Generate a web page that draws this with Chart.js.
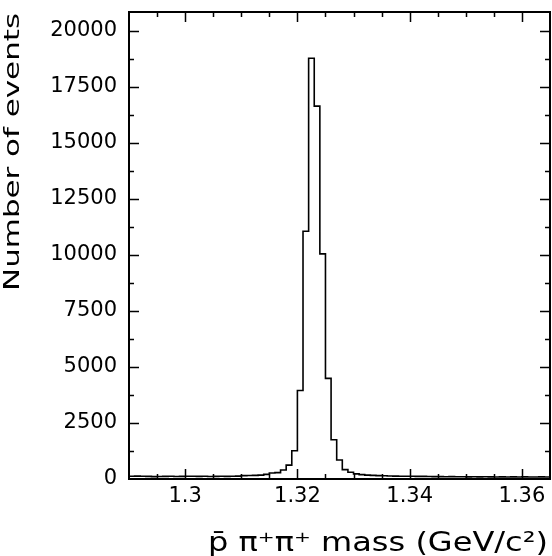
<!DOCTYPE html>
<html><head><meta charset="utf-8">
<script src="https://cdn.jsdelivr.net/npm/chart.js@4"></script>
<style>html,body{margin:0;padding:0;background:#fff;overflow:hidden}canvas{display:block}</style>
</head><body>
<canvas id="c" width="552" height="556"></canvas>
<script>
// ---- data ----
const xRange = [1.290, 1.365];
const binWidth = 0.001;
const binCounts = [
  120, 130, 125, 115, 105, 110, 115, 120, 110, 115,   // 1.290 - 1.299
  125, 120, 115, 120, 110, 115, 120, 115, 120, 130,   // 1.300 - 1.309
  150, 155, 160, 175, 205, 265, 285, 400, 620, 1260,  // 1.310 - 1.319
  3950, 11050, 18770, 16630, 10040, 4490, 1750, 850, 420, 300, // 1.320 - 1.329
  230, 195, 175, 160, 150, 145, 135, 130, 125, 120,   // 1.330 - 1.339
  120, 115, 115, 110, 105, 105, 100, 105, 100, 100,   // 1.340 - 1.349
  95, 100, 95, 100, 95, 90, 95, 90, 95, 90,           // 1.350 - 1.359
  95, 90, 90, 95, 90                                  // 1.360 - 1.364
];
const binLowEdges = binCounts.map((_, i) => +(xRange[0] + i * binWidth).toFixed(3));
const yRange = [0, 20830];
const xTickValues = [1.30, 1.32, 1.34, 1.36];
const xTickLabels = ['1.3', '1.32', '1.34', '1.36'];
const yTickValues = [0, 2500, 5000, 7500, 10000, 12500, 15000, 17500, 20000];
const yTickLabels = ['0', '2500', '5000', '7500', '10000', '12500', '15000', '17500', '20000'];
const xMinorStep = 0.005;
const yMinorStep = 1250;
const xTitle = 'p\u0304 \u03c0\u207a\u03c0\u207a mass (GeV/c\u00b2)';
const yTitle = 'Number of events';

// histogram as step line: each point at bin low edge, plus closing point at upper edge
const points = binLowEdges.map((x, i) => ({ x: x, y: binCounts[i] }));
points.push({ x: xRange[1], y: binCounts[binCounts.length - 1] });

const FONT = '"DejaVu Sans", "Liberation Sans", sans-serif';

const framePlugin = {
  id: 'frame',
  afterDraw(chart) {
    const ctx = chart.ctx;
    const a = chart.chartArea;
    const xs = chart.scales.x, ys = chart.scales.y;
    ctx.save();
    ctx.strokeStyle = '#000';
    ctx.lineWidth = 2;
    ctx.strokeRect(a.left, a.top, a.right - a.left, a.bottom - a.top);
    ctx.lineWidth = 1.5;
    ctx.beginPath();
    const nx = Math.round((xRange[1] - xRange[0]) / xMinorStep);
    for (let i = 0; i <= nx; i++) {
      const v = +(xRange[0] + i * xMinorStep).toFixed(4);
      const major = xTickValues.some(t => Math.abs(t - v) < 1e-6);
      const len = major ? 10 : 5;
      const px = Math.round(xs.getPixelForValue(v)) + 0.5;
      if (px <= a.left + 1 || px >= a.right - 1) continue;
      ctx.moveTo(px, a.bottom); ctx.lineTo(px, a.bottom - len);
      ctx.moveTo(px, a.top); ctx.lineTo(px, a.top + len);
    }
    for (let v = yRange[0]; v <= yRange[1]; v += yMinorStep) {
      const major = yTickValues.indexOf(v) >= 0;
      const len = major ? 10 : 5;
      const py = Math.round(ys.getPixelForValue(v)) + 0.5;
      if (py >= a.bottom - 1 || py <= a.top + 1) continue;
      ctx.moveTo(a.left, py); ctx.lineTo(a.left + len, py);
      ctx.moveTo(a.right, py); ctx.lineTo(a.right - len, py);
    }
    ctx.stroke();

    ctx.fillStyle = '#000';
    ctx.textBaseline = 'alphabetic';
    ctx.font = '26px ' + FONT;
    let w = ctx.measureText(xTitle).width;
    let sx = 340 / w;
    ctx.save();
    ctx.translate(548, 551);
    ctx.scale(sx, 1);
    ctx.textAlign = 'right';
    ctx.fillText(xTitle, 0, 0);
    ctx.restore();
    ctx.font = '22px ' + FONT;
    w = ctx.measureText(yTitle).width;
    sx = 278 / w;
    ctx.save();
    ctx.translate(19, 152);
    ctx.rotate(-Math.PI / 2);
    ctx.scale(sx, 1);
    ctx.textAlign = 'center';
    ctx.fillText(yTitle, 0, 0);
    ctx.restore();
    ctx.restore();
  }
};

new Chart(document.getElementById('c'), {
  type: 'line',
  data: {
    datasets: [{
      data: points,
      stepped: 'before',
      borderColor: '#000',
      borderWidth: 1.6,
      pointRadius: 0,
      fill: false,
      tension: 0
    }]
  },
  options: {
    responsive: false,
    animation: false,
    devicePixelRatio: 1,
    layout: { padding: { left: 0, top: 12, right: 2, bottom: 0 } },
    plugins: { legend: { display: false }, tooltip: { enabled: false } },
    scales: {
      x: {
        type: 'linear',
        min: xRange[0], max: xRange[1],
        grid: { display: false, drawTicks: false },
        border: { display: false },
        afterBuildTicks: s => { s.ticks = xTickValues.map(v => ({ value: v })); },
        afterFit: s => { s.height = 77; s.paddingLeft = 0; s.paddingRight = 0; },
        ticks: {
          autoSkip: false, maxRotation: 0, padding: 5, color: '#000',
          font: { family: FONT, size: 21 },
          callback: (v) => { const i = xTickValues.findIndex(t => Math.abs(t - v) < 1e-9); return i >= 0 ? xTickLabels[i] : ''; }
        }
      },
      y: {
        type: 'linear',
        min: yRange[0], max: yRange[1],
        grid: { display: false, drawTicks: false },
        border: { display: false },
        afterBuildTicks: s => { s.ticks = yTickValues.map(v => ({ value: v })); },
        afterFit: s => { s.width = 129; s.paddingTop = 0; s.paddingBottom = 0; },
        ticks: {
          autoSkip: false, padding: 12, color: '#000',
          font: { family: FONT, size: 21 },
          callback: (v) => { const i = yTickValues.indexOf(v); return i >= 0 ? yTickLabels[i] : ''; }
        }
      }
    }
  },
  plugins: [framePlugin]
});
</script>
</body></html>
